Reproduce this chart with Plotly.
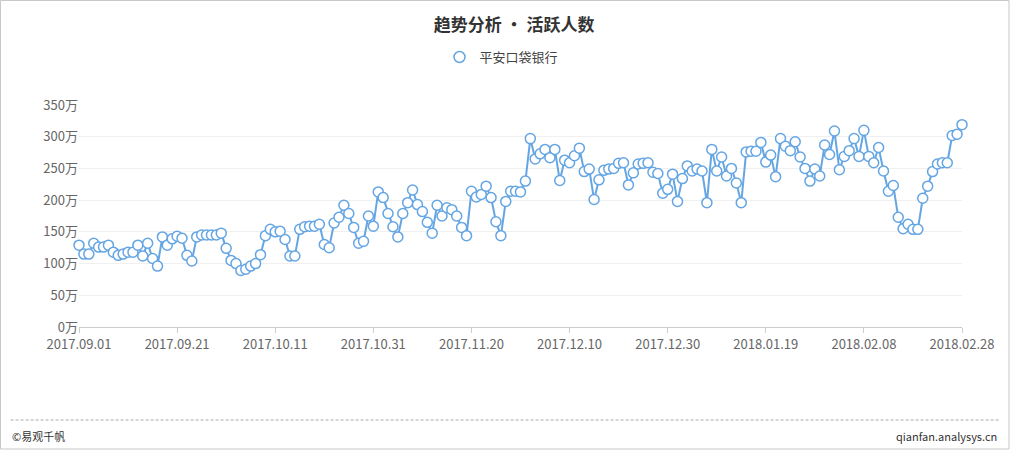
import pandas as pd
import plotly.graph_objects as go

START = '2017-09-01'
END = '2018-02-28'
SERIES_NAME = '平安口袋银行'

# daily active users, in 万 (10k)
active_users = [
    129, 115, 115, 132, 126, 126, 129, 118, 113, 115, 118, 118, 129, 112, 132,
    108, 96, 142, 129, 139, 143, 140, 113, 104, 142, 145, 145, 145, 145, 148,
    124, 105, 100, 89, 91, 96, 100, 114, 144, 154, 150, 151, 138, 112, 112,
    154, 158, 159, 159, 162, 130, 125, 164, 173, 192, 179, 157, 132, 135, 175,
    159, 213, 204, 179, 158, 142, 179, 196, 216, 193, 182, 165, 148, 192, 175,
    188, 185, 175, 157, 144, 214, 205, 209, 222, 204, 166, 144, 198, 214, 214, 213,
    230, 297, 265, 273, 280, 267, 280, 231, 263, 259, 270, 282, 245, 249, 201,
    232, 247, 249, 250, 258, 259, 224, 243, 257, 258, 259, 244, 242, 211, 217,
    241, 198, 234, 254, 246, 249, 246, 196, 280, 246, 268, 238, 250, 227, 196,
    276, 277, 277, 291, 260, 271, 237, 297, 285, 278, 292, 268, 250, 230, 249, 238,
    287, 272, 309, 248, 269, 278, 297, 269, 310, 269, 259, 283, 246, 214, 223,
    173, 155, 162, 154, 154, 203, 222, 245, 257, 259, 259, 302, 304, 319,
]
dates = pd.date_range(START, END, freq='D')

y_ticks = [0, 50, 100, 150, 200, 250, 300, 350]
y_labels = [f'{v}万' for v in y_ticks]

BLUE = '#64a5e3'
FONT = 'Noto Sans CJK SC'

fig = go.Figure()
fig.add_trace(go.Scatter(
    x=dates, y=active_users, mode='lines+markers', name=SERIES_NAME,
    line=dict(color=BLUE, width=2),
    marker=dict(size=10, color='white', line=dict(color=BLUE, width=1.5)),
    cliponaxis=False, showlegend=False,
))
# legend entry: circle only
fig.add_trace(go.Scatter(
    x=[None], y=[None], mode='markers', name=SERIES_NAME,
    marker=dict(size=11, color='white', line=dict(color=BLUE, width=1.5)),
))

fig.update_layout(
    width=1010, height=450,
    margin=dict(l=79, r=48, t=105, b=123),
    paper_bgcolor='white', plot_bgcolor='white',
    font=dict(family=FONT, size=13, color='#666'),
    title=dict(text='<b>趋势分析 • 活跃人数</b>', x=0.509, xanchor='center',
               y=0.944, yanchor='middle',
               font=dict(family=FONT, size=17, color='#333')),
    legend=dict(orientation='h', x=0.4785, xanchor='center', y=1.216, yanchor='middle',
                font=dict(family=FONT, size=13, color='#444')),
    showlegend=True,
)
fig.update_xaxes(
    type='date', range=[START, END], tick0=START, dtick=20 * 86400000,
    tickformat='%Y.%m.%d', showgrid=False, showline=True, linecolor='#ccc',
    ticks='outside', ticklen=5, tickcolor='#ccc', zeroline=False,
    tickfont=dict(family=FONT, size=13, color='#666'),
)
fig.update_yaxes(
    range=[0, 350], tickmode='array', tickvals=y_ticks, ticktext=y_labels,
    showgrid=True, gridcolor='#f0f0f0', zeroline=False, showline=False,
    tickfont=dict(family=FONT, size=13, color='#666'),
)

# frame, dashed footer divider and footer texts
fig.add_shape(type='rect', xref='paper', yref='paper', x0=-0.0889, x1=1.0532,
              y0=-0.5495, y1=1.4707, line=dict(color='#c8c8c8', width=1), layer='below')
fig.add_shape(type='line', xref='paper', yref='paper', x0=-0.0775, x1=1.043,
              y0=-0.419, y1=-0.419, line=dict(color='#aaa', width=1, dash='3px,2px'))
fig.add_annotation(text='©易观千帆', xref='paper', yref='paper', x=-0.0785, y=-0.491,
                   xanchor='left', yanchor='middle', showarrow=False,
                   font=dict(family=FONT, size=11, color='#333'))
fig.add_annotation(text='qianfan.analysys.cn', xref='paper', yref='paper', x=1.0415, y=-0.491,
                   xanchor='right', yanchor='middle', showarrow=False,
                   font=dict(family=FONT, size=11, color='#333'))

fig.write_html('out.html', config={'displayModeBar': False},
               post_script="document.body.style.margin='0';")
